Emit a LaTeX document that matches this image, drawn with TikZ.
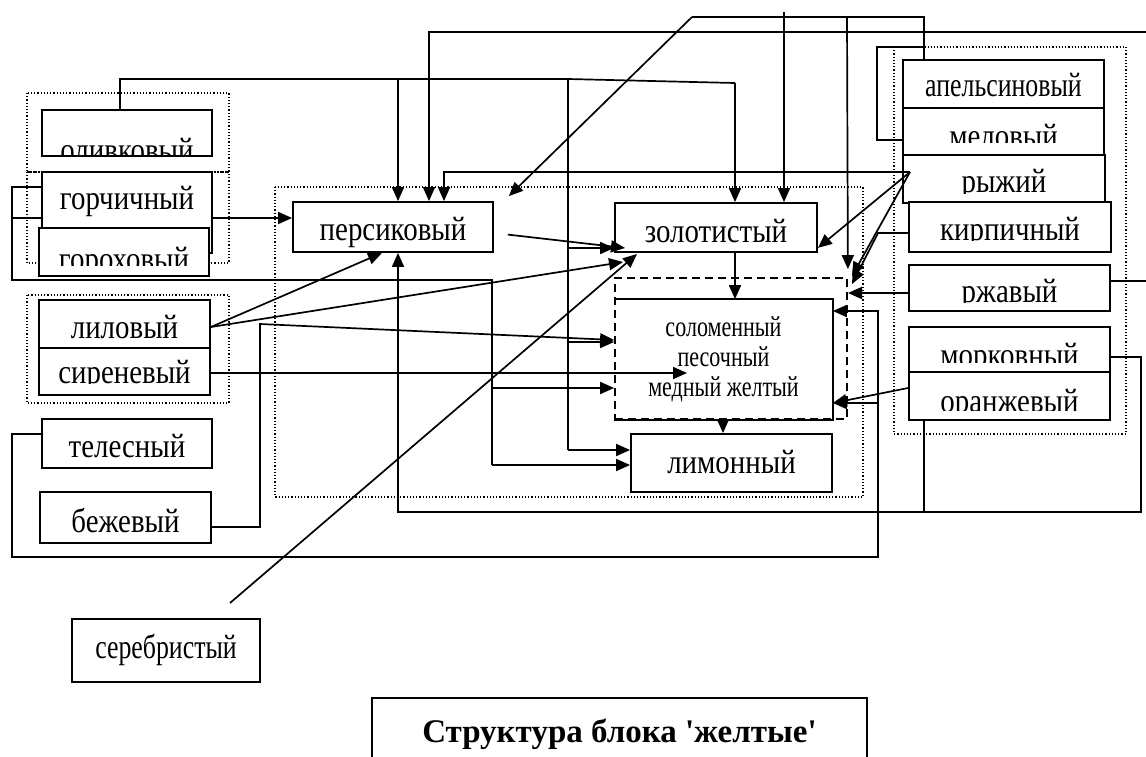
\documentclass[tikz,border=0pt]{standalone}
\usepackage{fontspec}
\setmainfont{Liberation Serif}[FakeStretch=0.85]
\newfontfamily\tightfont{Liberation Serif}[FakeStretch=0.76]
\newfontfamily\titlefont{Liberation Serif}
\usetikzlibrary{arrows.meta}
\tikzset{
	cbox/.style n args={3}{draw, line width=1.8pt, fill=white,
		path picture={
			\clip ([yshift=#3]path picture bounding box.south west) rectangle (path picture bounding box.north east);
			\node[anchor=base, inner sep=0pt] at ([yshift=#2]path picture bounding box.south) {#1};
		}},
	grpbox/.style={dotted, line width=1.2pt},
	arr/.style={-{Triangle[length=14pt,width=12pt]}},
}

\begin{document}
\begin{tikzpicture}[x=1pt, y=-1pt, line width=1.7pt, font=\fontsize{34}{38}\selectfont]
		\useasboundingbox (0,0) rectangle (1146,757);
		%%%%% START %%%%%
		\draw[grpbox] (27,93) rectangle (229,172);
		\draw[grpbox] (27,172) rectangle (229,263);
		\draw[grpbox] (27,295) rectangle (229,403);
		\draw[grpbox] (275,187) rectangle (863,497);
		\draw[grpbox] (894,47) rectangle (1126,434);
		
		\node[cbox={оливковый}{-5pt}{0pt}, minimum width=170pt, minimum height=46pt] (oliv) at (127,133) {};
		\node[cbox={горчичный}{44pt}{0pt}, minimum width=170pt, minimum height=81pt] (gorch) at (127,212.5) {};
		\node[cbox={гороховый}{6pt}{11pt}, minimum width=170pt, minimum height=48pt] (gorokh) at (124,252) {};
		\node[cbox={лиловый}{10pt}{0pt}, minimum width=171pt, minimum height=48pt] (lil) at (124.5,324) {};
		\node[cbox={сиреневый}{12pt}{12pt}, minimum width=171pt, minimum height=47pt] (siren) at (124.5,371.5) {};
		\node[cbox={телесный}{11pt}{0pt}, minimum width=170pt, minimum height=49pt] (teles) at (127,443.5) {};
		\node[cbox={бежевый}{11pt}{0pt}, minimum width=171pt, minimum height=51pt] (bezh) at (125.5,517.5) {};
		\node[cbox={\tightfont серебристый}{24pt}{0pt}, minimum width=188pt, minimum height=63pt] (silver) at (166,650.5) {};
		
		\node[cbox={персиковый}{12pt}{0pt}, minimum width=200pt, minimum height=50pt] (persik) at (393,227) {};
		\node[cbox={золотистый}{10pt}{0pt}, minimum width=202pt, minimum height=49pt] (zolot) at (716,227.5) {};
		\node[draw, dash pattern=on 8pt off 5pt, line width=1.8pt, minimum width=232pt, minimum height=141pt] (grp) at (731,348.5) {};
		\node[align=center, minimum width=217pt, minimum height=119pt, font=\tightfont\fontsize{29}{30}\selectfont] (solom) at (723.5,359.5) {соломенный\\песочный\\медный желтый};
		\draw[line width=1.8pt] (solom.south west) -- (solom.south east) -- (solom.north east) -- (solom.north west);
		\node[cbox={лимонный}{19pt}{0pt}, minimum width=201pt, minimum height=58pt] (limon) at (731.5,463) {};
		
		\node[cbox={\tightfont апельсиновый}{11pt}{0pt}, minimum width=201pt, minimum height=48pt] (apels) at (1003.5,84) {};
		\node[cbox={меловый}{7pt}{12pt}, minimum width=201pt, minimum height=47pt] (melov) at (1003.5,131.5) {};
		\node[cbox={рыжий}{10pt}{10pt}, minimum width=202pt, minimum height=48pt] (ryzh) at (1004,179) {};
		\node[cbox={кирпичный}{12pt}{12pt}, minimum width=202pt, minimum height=50pt] (kirp) at (1010,227) {};
		\node[cbox={ржавый}{9pt}{9pt}, minimum width=201pt, minimum height=46pt] (rzhav) at (1009.5,288) {};
		\node[cbox={морковный}{6pt}{10pt}, minimum width=201pt, minimum height=45pt] (morkov) at (1009.5,349.5) {};
		\node[cbox={оранжевый}{8pt}{10pt}, minimum width=201pt, minimum height=48pt] (oranzh) at (1009.5,396) {};
		
		\node[draw, line width=1.8pt, anchor=north, minimum width=495pt, inner ysep=22pt, text height=23pt, text depth=7pt, font=\titlefont\bfseries\fontsize{33}{36}\selectfont] (title) at (619.5,697) {Структура блока 'желтые'};
		
		% оливковый
		\draw (oliv.north -| 120,0) -- (120,79) -- (568,79) -- (735,83);
		\draw[arr] (735,83) -- (zolot.north -| 735,0);
		\draw[arr] (398,79) -- (persik.north -| 398,0);
		\draw (568,79) -- (568,450);
		\draw[arr] (568,248) -- (zolot.west |- 0,248);
		\draw[arr] (568,342) -- (solom.west |- 0,342);
		\draw[arr] (568,450) -- (limon.west |- 0,450);
		
		% горчичный
		\draw[arr] (gorch.east |- 0,218) -- (persik.west |- 0,218);
		\draw (gorch.west |- 0,218) -- (12,218);
		\draw (gorch.west |- 0,187) -- (12,187) -- (12,280) -- (492,280) -- (492,465);
		\draw[arr] (492,388) -- (solom.west |- 0,388);
		\draw[arr] (492,465) -- (limon.west |- 0,465);
		
		% апельсиновый, меловый
		\draw (apels.north -| 924,0) -- (924,17) -- (692,17);
		\draw[arr] (692,17) -- ([xshift=15pt,yshift=5pt]persik.north east);
		\draw[arr] (847,17) -- ([yshift=8pt]grp.north east);
		\draw (924,47) -- (877,47) -- (877,140) -- (melov.west |- 0,140);
		
		% сверху
		\draw[arr] (1146,32) -- (429,32) -- (persik.north -| 429,0);
		\coordinate (topin) at (784,12);
		\draw[arr] (topin) -- (zolot.north -| topin);
		
		% рыжий, кирпичный, ржавый
		\coordinate (rfan) at (910,172);
		\draw[arr] (rfan) -- (444,172) -- (persik.north -| 444,0);
		\draw[arr] (rfan) -- ([yshift=5pt]zolot.south east);
		\draw[arr] (rfan) -- (852,276);
		\draw[arr] (kirp.west |- 0,233) -- (878,233) -- (852,284);
		\draw[arr] (rzhav.west |- 0,293) -- (848,293);
		\draw (rzhav.east |- 0,281) -- (1146,281);
		
		% морковный, оранжевый
		\draw[arr] (morkov.east |- 0,357) -- (1141,357) -- (1141,512) -- (398,512) -- (persik.south -| 398,0);
		\draw (oranzh.south -| 924,0) -- (924,512);
		\draw[arr] (oranzh.west |- 0,388) -- (solom.east |- 0,403);
		
		% телесный
		\draw[arr] (teles.west |- 0,434) -- (12,434) -- (12,557) -- (878,557) -- (878,311) -- (solom.east |- 0,311);
		\draw[arr] (878,403) -- (solom.east |- 0,403);
		
		% лиловый, сиреневый, бежевый
		\draw[arr] (lil.east |- 0,327) -- (persik.south -| 382,0);
		\draw[arr] (lil.east |- 0,327) -- (623,262);
		\draw[arr] (siren.east |- 0,373) -- (687,373);
		\draw[arr] (bezh.east |- 0,527) -- (260,527) -- (260,324) -- (solom.west |- 0,340);
		
		% серебристый
		\coordinate (silv) at (230,603);
		\draw[arr] (silv) -- (637,254);
		
		% внутри блока
		\draw[arr, shorten <=14pt] (persik.east |- 0,233) -- (625,248);
		\draw[arr] (zolot.south -| 735,0) -- (solom.north -| 735,0);
		\draw[arr] (solom.south -| 723,0) -- (limon.north -| 723,0);
		%%%%% END %%%%%
	\end{tikzpicture}
\end{document}
